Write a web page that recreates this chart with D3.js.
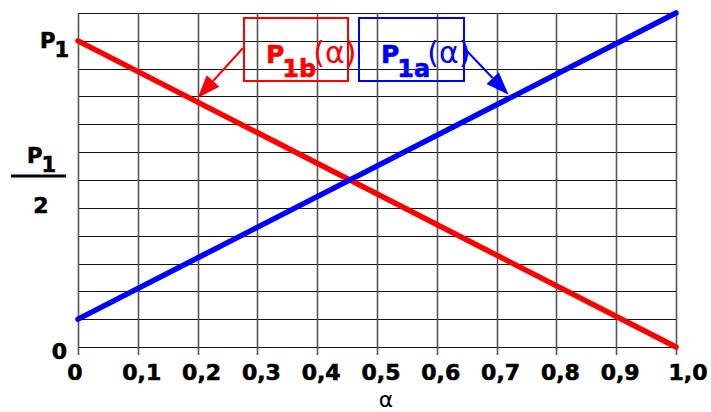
<!DOCTYPE html>
<html>
<head>
<meta charset="utf-8">
<script src="https://cdnjs.cloudflare.com/ajax/libs/d3/7.8.5/d3.min.js"></script>
<style>
  body { margin: 0; background: #fff; }
  text { font-family: "DejaVu Sans", Verdana, sans-serif; }
  .heavy { font-weight: bold; stroke-width: 0.6px; }
</style>
</head>
<body>
<script>
// values (P in units of P1)
var alphaValues = [0, 1];
var p1bValues = [1, 0];          // red, P1b(alpha)
var p1aValues = [0.091, 1.091];  // blue, P1a(alpha)
var xTickValues = [0, 0.1, 0.2, 0.3, 0.4, 0.5, 0.6, 0.7, 0.8, 0.9, 1.0];
var xTickLabels = ["0", "0,1", "0,2", "0,3", "0,4", "0,5", "0,6", "0,7", "0,8", "0,9", "1,0"];
var gridRows = 12;               // horizontal grid steps, 1/11 of P1 each
var boxLabels = [{main: "P", sub: "1b", color: "red"}, {main: "P", sub: "1a", color: "blue"}];
var arrowAlpha = [0.2, 0.72];

var width = 711, height = 412;

var svg = d3.select("body").append("svg")
    .attr("width", width)
    .attr("height", height);

var x = d3.scaleLinear()
    .domain([0, 1])
    .range([78, 676]);

var y = d3.scaleLinear()
    .domain([0, gridRows / 11])
    .range([347, 13]);

// grid
svg.selectAll("line.h")
    .data(d3.range(0, gridRows + 1))
    .enter()
    .append("line")
    .attr("x1", x(0))
    .attr("x2", x(1))
    .attr("y1", function (d) { return Math.round(y(d / 11)) + 0.5; })
    .attr("y2", function (d) { return Math.round(y(d / 11)) + 0.5; })
    .style("stroke", "#111")
    .style("stroke-width", 1.2);

svg.selectAll("line.v")
    .data(xTickValues)
    .enter()
    .append("line")
    .attr("x1", function (d) { return Math.round(x(d)) + 0.5; })
    .attr("x2", function (d) { return Math.round(x(d)) + 0.5; })
    .attr("y1", y(gridRows / 11))
    .attr("y2", y(0) + 8)
    .style("stroke", "#555")
    .style("stroke-width", 1.6);

// x tick labels
svg.selectAll("text.xt")
    .data(xTickValues)
    .enter()
    .append("text")
    .attr("class", "heavy")
    .attr("x", function (d) { return x(d); })
    .attr("dx", function (d) { return d === 0 ? -3 : (d === 1 ? 12 : 4); })
    .attr("y", 380)
    .attr("text-anchor", "middle")
    .style("font-size", "22px")
    .style("stroke", "#000")
    .text(function (d, i) { return xTickLabels[i]; });

svg.append("text")
    .attr("x", 386)
    .attr("y", 407)
    .attr("text-anchor", "middle")
    .style("font-size", "22px")
    .text("α");

// y labels
svg.append("text")
    .attr("class", "heavy")
    .attr("x", 67)
    .attr("y", y(0) + 12)
    .attr("text-anchor", "end")
    .style("font-size", "22px")
    .style("stroke", "#000")
    .text("0");

function p1Label(x0, yb) {
    var t = svg.append("text")
        .attr("class", "heavy")
        .attr("x", x0)
        .attr("y", yb)
        .style("font-size", "21px")
        .style("stroke", "#000");
    t.append("tspan").text("P");
    t.append("tspan").attr("dy", 9).attr("dx", -1).text("1");
}
p1Label(40, y(1) + 7);
p1Label(27, y(0.5) - 31);

svg.append("line")
    .attr("x1", 11)
    .attr("x2", 66)
    .attr("y1", y(0.5) - 18)
    .attr("y2", y(0.5) - 18)
    .style("stroke", "#000")
    .style("stroke-width", 3);

svg.append("text")
    .attr("class", "heavy")
    .attr("x", 41)
    .attr("y", y(0.5) + 19)
    .attr("text-anchor", "middle")
    .style("font-size", "22px")
    .style("stroke", "#000")
    .text("2");

// the two lines
var line = d3.line()
    .x(function (d) { return x(d[0]); })
    .y(function (d) { return y(d[1]); });

svg.append("path")
    .datum(d3.zip(alphaValues, p1bValues))
    .attr("d", line)
    .style("fill", "none")
    .style("stroke", "red")
    .style("stroke-width", 5.5)
    .style("stroke-linecap", "round");

svg.append("path")
    .datum(d3.zip(alphaValues, p1aValues))
    .attr("d", line)
    .style("fill", "none")
    .style("stroke", "blue")
    .style("stroke-width", 5.5)
    .style("stroke-linecap", "round");

// annotation boxes with arrows
var boxes = [
    {x0: 244, x1: 348, from: [243, 48], value: function (a) { return d3.interpolate(p1bValues[0], p1bValues[1])(a); }},
    {x0: 359, x1: 464, from: [464, 48], value: function (a) { return d3.interpolate(p1aValues[0], p1aValues[1])(a); }}
];

boxes.forEach(function (b, i) {
    var lab = boxLabels[i];
    svg.append("rect")
        .attr("x", b.x0)
        .attr("y", 18)
        .attr("width", b.x1 - b.x0)
        .attr("height", 63)
        .style("fill", "none")
        .style("stroke", lab.color)
        .style("stroke-width", 2);

    var t = svg.append("text")
        .attr("x", b.x0 + 22)
        .attr("y", 63)
        .style("fill", lab.color);
    t.append("tspan").attr("class", "heavy").style("stroke", lab.color)
        .style("font-size", "25px").text(lab.main);
    t.append("tspan").attr("class", "heavy").style("stroke", lab.color)
        .style("font-size", "24px")
        .attr("dy", 14).attr("dx", -2).text(lab.sub);
    t.append("tspan").style("font-size", "30px")
        .attr("dy", -14).attr("dx", -3).text("(α)");

    var a = arrowAlpha[i];
    var tip = [x(a), y(b.value(a)) - 4];
    var dxv = tip[0] - b.from[0], dyv = tip[1] - b.from[1];
    var len = Math.sqrt(dxv * dxv + dyv * dyv);
    var ux = dxv / len, uy = dyv / len;
    var hl = 23, hw = 8.5;
    var base = [tip[0] - ux * hl, tip[1] - uy * hl];

    svg.append("line")
        .attr("x1", b.from[0])
        .attr("y1", b.from[1])
        .attr("x2", base[0])
        .attr("y2", base[1])
        .style("stroke", lab.color)
        .style("stroke-width", 2);

    svg.append("polygon")
        .attr("points", [
            tip,
            [base[0] - uy * hw, base[1] + ux * hw],
            [base[0] + uy * hw, base[1] - ux * hw]
        ].map(function (p) { return p.join(","); }).join(" "))
        .style("fill", lab.color);
});
</script>
</body>
</html>
